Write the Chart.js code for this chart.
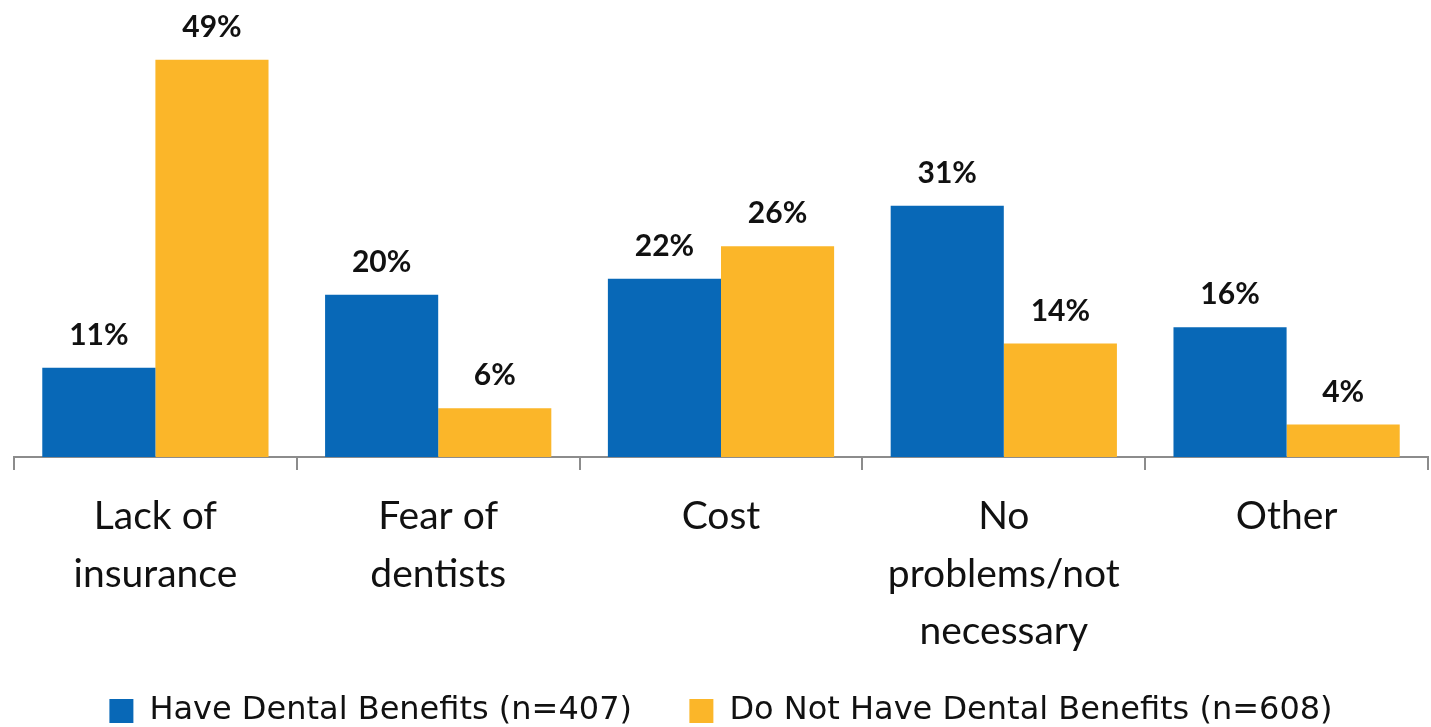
<!DOCTYPE html>
<html>
<head>
<meta charset="utf-8">
<script src="https://cdn.jsdelivr.net/npm/chart.js@4"></script>
<style>
  html, body { margin: 0; padding: 0; background: #fff; }
  #wrap { width: 1431px; height: 727px; }
</style>
</head>
<body>
<div id="wrap"><canvas id="myChart"></canvas></div>
<script>
const categories = [
  ['Lack of', 'insurance'],
  ['Fear of', 'dentists'],
  'Cost',
  ['No', 'problems/not', 'necessary'],
  'Other'
];
const haveBenefits = [11, 20, 22, 31, 16];
const noBenefits = [49, 6, 26, 14, 4];
const seriesNames = ['Have Dental Benefits (n=407)', 'Do Not Have Dental Benefits (n=608)'];

const FONT = "Lato, 'Open Sans', sans-serif";

// draw the % labels over each bar
const valueLabels = {
  id: 'valueLabels',
  afterDatasetsDraw(chart) {
    const c = chart.ctx;
    c.save();
    c.font = 'bold 30px ' + FONT;
    c.fillStyle = '#111';
    c.textAlign = 'center';
    c.textBaseline = 'alphabetic';
    chart.data.datasets.forEach((ds, i) => {
      chart.getDatasetMeta(i).data.forEach((bar, j) => {
        c.fillText(ds.data[j] + '%', bar.x, bar.y - 23);
      });
    });
    c.restore();
  }
};

new Chart(document.getElementById('myChart'), {
  type: 'bar',
  data: {
    labels: categories,
    datasets: [
      { label: seriesNames[0], data: haveBenefits, backgroundColor: '#0868B7',
        categoryPercentage: 0.8, barPercentage: 1.0 },
      { label: seriesNames[1], data: noBenefits, backgroundColor: '#FBB629',
        categoryPercentage: 0.8, barPercentage: 1.0 }
    ]
  },
  options: {
    responsive: true,
    maintainAspectRatio: false,
    animation: false,
    layout: { padding: { left: 14, right: 3, top: 3, bottom: -10 } },
    plugins: {
      legend: {
        position: 'bottom',
        labels: {
          color: '#111',
          font: { family: "'DejaVu Sans', sans-serif", size: 32 },
          boxWidth: 24,
          boxHeight: 24,
          padding: 3,
          // wider gap after the first item, like the original
          generateLabels(chart) {
            const items = Chart.defaults.plugins.legend.labels.generateLabels(chart);
            items[0].text = items[0].text + '\u2003\u2002\u2009';
            return items;
          }
        }
      },
      tooltip: { enabled: false }
    },
    scales: {
      x: {
        grid: {
          offset: true,
          drawOnChartArea: false,
          drawTicks: true,
          tickLength: 13,
          color: '#8c8c8c',
          lineWidth: 2
        },
        border: { color: '#8c8c8c', width: 2 },
        ticks: {
          color: '#111',
          font: { family: FONT, size: 39, lineHeight: 1.47 },
          padding: 18,
          maxRotation: 0,
          autoSkip: false
        },
        afterFit(scale) { scale.height += 14; }
      },
      y: {
        display: false,
        min: 0,
        max: 56
      }
    }
  },
  plugins: [valueLabels]
});
</script>
</body>
</html>
